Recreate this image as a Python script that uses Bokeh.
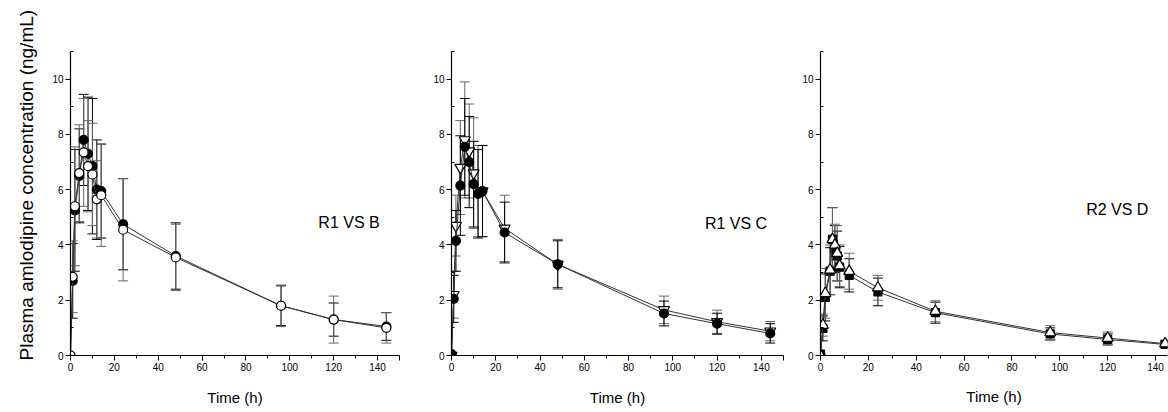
from bokeh.plotting import figure
from bokeh.layouts import row
from bokeh.models import Whisker, TeeHead, ColumnDataSource, Label, FixedTicker, Range1d, Title
from bokeh.embed import file_html
from bokeh.resources import INLINE

# ---------------- data ----------------
times_abc = [0, 1, 2, 4, 6, 8, 10, 12, 14, 24, 48, 96, 120, 144]
times_d = [0, 1, 2, 4, 5, 6, 7, 8, 12, 24, 48, 96, 120, 144]

# Panel 1: R1 vs B
r1_b = [0, 2.7, 5.25, 6.5, 7.8, 7.3, 6.85, 6.0, 5.95, 4.75, 3.6, 1.8, 1.3, 1.05]
r1_b_sd = [0, 1.35, 2.2, 1.7, 1.65, 2.05, 2.45, 1.8, 1.7, 1.65, 1.2, 0.72, 0.6, 0.5]
b = [0, 2.85, 5.4, 6.6, 7.35, 6.85, 6.55, 5.65, 5.8, 4.55, 3.55, 1.8, 1.3, 1.0]
b_sd = [0, 1.3, 2.15, 1.75, 1.95, 1.65, 1.85, 1.4, 1.85, 1.85, 1.2, 0.75, 0.85, 0.55]

# Panel 2: R1 vs C
r1_c = [0.05, 2.05, 4.15, 6.15, 7.55, 7.0, 6.2, 5.85, 5.95, 4.45, 3.3, 1.52, 1.15, 0.8]
r1_c_sd = [0, 0.85, 1.1, 1.8, 1.75, 1.65, 1.55, 1.6, 1.65, 1.1, 0.85, 0.45, 0.38, 0.35]
c = [0, 2.2, 4.7, 6.8, 7.8, 7.4, 6.6, 5.95, 5.95, 4.6, 3.3, 1.65, 1.22, 0.88]
c_sd = [0, 0.85, 1.1, 1.7, 2.1, 1.7, 2.0, 1.65, 1.65, 1.2, 0.9, 0.5, 0.42, 0.35]

# Panel 3: R2 vs D
r2 = [0.05, 0.98, 2.1, 3.05, 4.2, 3.85, 3.6, 3.2, 2.9, 2.3, 1.55, 0.78, 0.58, 0.4]
r2_sd = [0, 0.45, 0.85, 0.85, 1.15, 0.85, 0.9, 0.75, 0.6, 0.5, 0.38, 0.22, 0.2, 0.1]
d = [0, 1.1, 2.25, 3.1, 4.2, 4.0, 3.7, 3.25, 3.05, 2.45, 1.6, 0.83, 0.63, 0.43]
d_sd = [0, 0.4, 0.9, 0.9, 1.15, 0.75, 1.0, 0.75, 0.65, 0.45, 0.38, 0.25, 0.22, 0.12]

panel_labels = ["R1 VS B", "R1 VS C", "R2 VS D"]
x_label = "Time (h)"
y_label = "Plasma amlodipine concentration (ng/mL)"
x_ticks = [0, 20, 40, 60, 80, 100, 120, 140, 150]
x_minor = [10, 30, 50, 70, 90, 110, 130]
y_ticks = [0, 2, 4, 6, 8, 10]
y_minor = [1, 3, 5, 7, 9, 11]

FONT = "Liberation Sans"
H = 412


def make_panel(width, height, bl, br, bt, bb, xmax, xlab_standoff):
    p = figure(width=width, height=height, output_backend="svg", toolbar_location=None,
               x_range=Range1d(0, xmax), y_range=Range1d(0, 11),
               min_border_left=bl, min_border_right=br, min_border_top=bt,
               min_border_bottom=bb)
    p.outline_line_color = None
    p.grid.visible = False
    p.background_fill_color = "white"
    xa = p.xaxis[0]
    ya = p.yaxis[0]
    xa.ticker = FixedTicker(ticks=x_ticks, minor_ticks=x_minor)
    xa.major_label_overrides = {150: ""}
    ya.ticker = FixedTicker(ticks=y_ticks, minor_ticks=y_minor)
    for ax in (xa, ya):
        ax.axis_line_color = "black"
        ax.axis_line_width = 1.2
        ax.major_tick_line_color = "black"
        ax.minor_tick_line_color = "black"
        ax.major_tick_in = 0
        ax.major_tick_out = 5
        ax.major_label_text_font = FONT
        ax.major_label_text_font_size = "10px"
        ax.major_label_text_color = "black"
        ax.major_label_standoff = 2
        ax.axis_label_text_font = FONT
        ax.axis_label_text_font_style = "normal"
        ax.axis_label_text_color = "black"
    xa.minor_tick_in = 0
    xa.minor_tick_out = 3
    ya.minor_tick_in = 3
    ya.minor_tick_out = 0
    xa.axis_label = x_label
    xa.axis_label_text_font_size = "15px"
    xa.axis_label_standoff = xlab_standoff
    return p


def add_series(p, t, y, sd, marker, filled, err_color, size):
    src = ColumnDataSource(dict(t=t, y=y,
                                lo=[v - s for v, s in zip(y, sd)],
                                hi=[v + s for v, s in zip(y, sd)]))
    w = Whisker(source=src, base="t", upper="hi", lower="lo", dimension="height",
                line_color=err_color, line_width=1, level="underlay",
                upper_head=TeeHead(size=10, line_color=err_color, line_width=1),
                lower_head=TeeHead(size=10, line_color=err_color, line_width=1))
    p.add_layout(w)
    p.line("t", "y", source=src, line_color="#333333", line_width=1)
    p.scatter("t", "y", source=src, marker=marker, size=size,
              fill_color="black" if filled else "white",
              line_color="black", line_width=1.2)


p1 = make_panel(409, H, 70, 10, 51, 55, 150, 15)
add_series(p1, times_abc, r1_b, r1_b_sd, "circle", True, "black", 9)
add_series(p1, times_abc, b, b_sd, "circle", False, "#666666", 9)
# shared vertical y-axis title, starting just below the x axis like the original
p1.add_layout(Title(text=y_label, align="left", offset=-5, standoff=25,
                    text_font=FONT, text_font_size="19px", text_font_style="normal",
                    text_color="black"), "left")

p2 = make_panel(384, H, 42, 10, 46, 57, 150, 15)
add_series(p2, times_abc, c, c_sd, "inverted_triangle", False, "#666666", 11)
add_series(p2, times_abc, r1_c, r1_c_sd, "circle", True, "black", 9)

p3 = make_panel(375, H, 27, 1, 48, 54, 145, 14)
add_series(p3, times_d, r2, r2_sd, "square", True, "black", 8)
add_series(p3, times_d, d, d_sd, "triangle", False, "#666666", 11)

for p, txt, (lx, ly) in zip((p1, p2, p3), panel_labels, [(113, 4.8), (114.5, 4.77), (111, 5.27)]):
    p.add_layout(Label(x=lx, y=ly, text=txt, text_font=FONT, text_font_size="16px",
                       text_color="black", text_baseline="middle", text_align="left"))

layout = row(p1, p2, p3, spacing=0)
open("out.html", "w").write(file_html(layout, INLINE))
